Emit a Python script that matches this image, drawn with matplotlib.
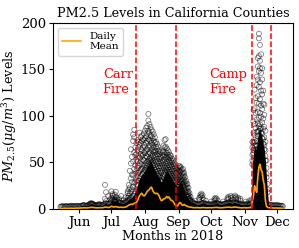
import numpy as np
import pandas as pd
import matplotlib
matplotlib.use("Agg")
import matplotlib.pyplot as plt
import matplotlib.dates as mdates

plt.rcParams['font.family'] = 'DejaVu Serif'
plt.rcParams['mathtext.fontset'] = 'dejavuserif'

# daily mean PM2.5 (ug/m3), 2018-05-15 .. 2018-12-06
mean_may = [0.9, 0.8, 0.8, 0.9, 1.0, 0.9, 0.8, 0.8, 0.9, 1.0, 1.0, 0.9, 0.8, 0.9, 1.0, 1.1, 1.0]
mean_jun = [1.0, 1.1, 1.2, 1.2, 1.3, 1.4, 1.3, 1.2, 1.3, 1.5, 1.6, 1.8, 1.9, 1.7, 1.5,
            1.4, 1.3, 1.3, 1.4, 1.5, 1.5, 1.4, 1.5, 1.7, 2.2, 2.0, 1.8, 1.7, 1.8, 2.3]
mean_jul = [3.0, 2.6, 2.2, 2.4, 2.6, 2.3, 2.0, 1.8, 1.9, 2.0, 1.8, 1.7, 1.9, 2.2, 2.6,
            3.5, 4.2, 4.8, 5.2, 5.0, 5.5, 6.0, 6.5, 7.0, 9.0, 12.0, 14.5, 16.0, 17.0, 15.0, 14.0]
mean_aug = [15, 17, 19, 20, 21, 23, 23.5, 20, 18, 17, 16.5, 17, 16, 14, 11, 9, 9.5,
            11, 11, 12, 13.5, 12, 13, 11, 9.5, 9, 8, 6, 4, 3, 3.5]
mean_sep = [5.5, 7, 6.5, 4.5, 4, 5, 4, 3.5, 3, 2.5, 2.2, 2, 1.8, 1.6, 1.5, 1.4, 1.5,
            1.6, 1.5, 1.4, 1.3, 1.5, 1.7, 1.6, 1.5, 1.4, 1.3, 1.4, 1.5, 1.4]
mean_oct = [1.4, 1.5, 1.6, 1.7, 1.9, 1.8, 1.6, 1.5, 1.4, 1.3, 1.4, 1.5, 1.6, 1.8, 1.9, 2.0,
            2.1, 1.9, 1.8, 1.7, 1.9, 2.0, 2.2, 2.0, 1.8, 1.6, 1.5, 1.4, 1.3, 1.4, 1.5]
mean_nov = [1.5, 1.4, 1.3, 1.4, 1.5, 1.6, 1.8, 9, 14, 25, 21, 18, 34, 45, 48, 42, 40, 31,
            26, 9, 3, 2, 1.5, 1.4, 1.3, 1.2, 1.2, 1.1, 1.2, 1.1]
mean_dec = [1.1, 1.0, 1.1, 1.0, 1.0, 0.9]

# top of the solid (overlapping) block of readings per day
dense_may = [2.5, 3, 3, 2.5, 3, 3, 3, 2.5, 3, 3, 3.5, 3, 3, 3, 3, 3.5, 3]
dense_jun = [3, 3, 3.5, 3.5, 4, 4, 3.5, 3.5, 4, 4.5, 5, 5.5, 5.5, 5, 4.5, 4, 4, 4, 4.5,
             4.5, 4, 4, 4.5, 5, 6, 6, 5.5, 5.5, 6, 7]
dense_jul = [9, 10, 9, 8, 9, 10, 8, 7, 7, 6.5, 6, 6, 6.5, 7, 8, 9, 10, 11, 12, 13, 14,
             16, 19, 22, 26, 30, 33, 35, 37, 38, 40]
dense_aug = [42, 44, 46, 48, 50, 52, 50, 47, 44, 42, 40, 38, 36, 34, 31, 29, 31, 34, 37,
             40, 42, 40, 38, 36, 34, 32, 30, 28, 26, 25, 24]
dense_sep = [26, 28, 29, 27, 24, 21, 18, 15, 13, 11, 9.5, 8.5, 7.5, 7, 6, 6, 5.5, 5, 5, 5,
             5.5, 6, 6.5, 6.5, 6, 5.5, 5, 5, 5, 5]
dense_oct = [5, 5, 5, 5.5, 6, 6.5, 6, 5.5, 5, 5, 5, 5, 5.5, 6, 6, 6.5, 7, 7, 6.5, 6, 6.5,
             7, 7, 6.5, 6, 6, 5.5, 5, 5, 5, 5]
dense_nov = [5, 5, 5, 5, 5, 5.5, 6, 48, 60, 68, 64, 68, 78, 84, 86, 82, 76, 70, 64, 52,
             34, 18, 5, 4.5, 4, 4, 4, 4, 4, 4]
dense_dec = [4, 4, 3.5, 3.5, 3.5, 3]

# scattered single readings above the solid block
spread = {
    '06-05': [4.5], '06-11': [5.5], '06-12': [6.5], '06-13': [6], '06-14': [5.5],
    '06-19': [5], '06-20': [5.5], '06-25': [26, 11], '06-26': [18, 8.5], '06-28': [14],
    '06-30': [10.5], '07-01': [12, 19], '07-02': [14.5, 16], '07-03': [12.5], '07-04': [10, 15.5],
    '07-05': [13, 18.5], '07-06': [12], '07-08': [10, 11.5], '07-10': [14], '07-12': [9.5],
    '07-14': [9, 12.5], '07-16': [12, 17, 19], '07-17': [14, 21, 26], '07-18': [17, 23, 41],
    '07-19': [19, 33, 49, 64], '07-20': [21, 29, 37, 56], '07-21': [24, 36, 51, 73, 80],
    '07-22': [28, 43, 61, 77, 85], '07-23': [29, 38, 47, 58, 66], '07-24': [31, 41, 53, 59, 71],
    '07-25': [35, 44, 51, 63, 74], '07-26': [39, 47, 57, 66, 72], '07-27': [41, 49, 55, 69, 82],
    '07-28': [42, 51, 59, 64, 71, 77], '07-29': [43, 48, 57, 63, 73, 79],
    '07-30': [44, 53, 58, 66, 75], '07-31': [46, 52, 61, 69, 74, 81],
    '08-01': [47, 55, 60, 67, 76, 84], '08-02': [49, 57, 63, 71, 78, 87],
    '08-03': [51, 56, 64, 73, 81, 89], '08-04': [52, 59, 66, 75, 84, 95, 102],
    '08-05': [54, 61, 68, 74, 82, 91], '08-06': [55, 60, 67, 73, 79, 88],
    '08-07': [53, 58, 64, 71, 78, 85], '08-08': [51, 57, 62, 69, 76, 83],
    '08-09': [49, 55, 61, 66, 73, 80], '08-10': [47, 52, 58, 63, 71, 77],
    '08-11': [45, 51, 56, 62, 67, 72], '08-12': [43, 49, 54, 59, 65, 70],
    '08-13': [41, 46, 51, 57, 62, 67], '08-14': [38, 44, 49, 54, 59, 63],
    '08-15': [35, 41, 46, 51, 56, 61], '08-16': [33, 39, 44, 49, 55],
    '08-17': [35, 41, 47, 52, 58, 62], '08-18': [38, 44, 50, 56, 61, 68],
    '08-19': [41, 47, 53, 58, 66, 74], '08-20': [44, 49, 55, 61, 67, 75],
    '08-21': [46, 51, 56, 60, 65], '08-22': [44, 49, 54, 58, 63],
    '08-23': [42, 47, 52, 56, 61], '08-24': [40, 45, 50, 55, 58],
    '08-25': [38, 43, 47, 52, 57], '08-26': [36, 41, 45, 50, 54],
    '08-27': [34, 38, 43, 48, 52], '08-28': [31, 36, 41, 46, 50],
    '08-29': [29, 34, 39, 44, 48], '08-30': [28, 33, 38, 42],
    '08-31': [27, 31, 36, 40, 44], '09-01': [29, 34, 38, 42, 46],
    '09-02': [31, 35, 40, 44, 46], '09-03': [32, 36, 41, 45], '09-04': [30, 34, 38, 42],
    '09-05': [27, 31, 35, 39, 43], '09-06': [24, 28, 32, 36, 39], '09-07': [21, 25, 29, 34],
    '09-08': [18, 22, 26, 30], '09-09': [15, 19, 23, 27], '09-10': [13, 16, 19, 23],
    '09-11': [11, 14, 17], '09-12': [10, 13],
    '09-14': [8], '09-16': [9], '09-20': [10, 12], '09-21': [13, 15], '09-22': [14, 16.5],
    '09-23': [12, 15], '09-24': [10], '09-26': [9], '10-01': [8], '10-04': [9, 11],
    '10-05': [10, 12], '10-06': [11], '10-07': [9], '10-12': [8], '10-16': [10, 12],
    '10-17': [11, 13], '10-19': [12, 14], '10-21': [10, 13], '10-23': [12, 14.5],
    '10-24': [11, 13], '10-26': [10, 12], '10-28': [9, 11], '11-02': [8], '11-05': [7, 9],
    '11-07': [8, 10],
    '11-08': [52, 58, 66, 72], '11-09': [63, 71, 82, 94, 106],
    '11-10': [72, 79, 91, 108, 128], '11-11': [69, 76, 87, 103, 119],
    '11-12': [73, 83, 96, 114, 133, 142], '11-13': [83, 92, 104, 121, 139, 153, 162],
    '11-14': [89, 98, 113, 131, 148, 164, 183, 188],
    '11-15': [91, 103, 118, 136, 151, 159, 176], '11-16': [87, 99, 111, 127, 146, 166],
    '11-17': [81, 93, 107, 123, 139, 151], '11-18': [75, 86, 97, 113, 127],
    '11-19': [69, 77, 88, 101, 112], '11-20': [57, 63, 72, 84],
    '11-21': [38, 44, 52], '11-22': [21, 27],
}

fires = ['2018-07-24', '2018-08-30', '2018-11-08', '2018-11-25']

days = pd.date_range('2018-05-15', '2018-12-06')
mean_pm = mean_may + mean_jun + mean_jul + mean_aug + mean_sep + mean_oct + mean_nov + mean_dec
dense_pm = dense_may + dense_jun + dense_jul + dense_aug + dense_sep + dense_oct + dense_nov + dense_dec

sx, sy = [], []
for k, vals in spread.items():
    for v in vals:
        sx.append(pd.Timestamp('2018-' + k))
        sy.append(v)

fig = plt.figure(figsize=(2.99, 2.48), dpi=100)
ax = fig.add_axes([0.177, 0.157, 0.803, 0.752])

ax.fill_between(days, 0, dense_pm, color='black', lw=0, zorder=2)
ax.scatter(days, dense_pm, s=13, facecolors='none', edgecolors='black', linewidths=0.6, alpha=0.6, zorder=2)
ax.scatter(sx, sy, s=13, facecolors='none', edgecolors='black', linewidths=0.6, alpha=0.5, zorder=2)
ax.plot(days, mean_pm, color='orange', lw=1.2, label='Daily\nMean', zorder=4)

for d in fires:
    ax.axvline(pd.Timestamp(d), color='red', ls='--', lw=1.1, zorder=5)

ax.text(pd.Timestamp('2018-06-23'), 124, 'Carr\nFire', color='red', fontsize=9.3, ha='left', va='baseline')
ax.text(pd.Timestamp('2018-09-29'), 124, 'Camp\nFire', color='red', fontsize=9.3, ha='left', va='baseline')

ax.set_xlim(pd.Timestamp('2018-05-08'), pd.Timestamp('2018-12-15 12:00'))
ax.set_ylim(0, 200)
ax.set_yticks([0, 50, 100, 150, 200])
ax.xaxis.set_major_locator(mdates.MonthLocator(bymonth=range(6, 13)))
ax.xaxis.set_major_formatter(mdates.DateFormatter('%b'))
ax.tick_params(labelsize=9.5, length=3, pad=2)

ax.set_title('PM2.5 Levels in California Counties', fontsize=9.2, pad=4)
ax.set_xlabel('Months in 2018', fontsize=9.2, labelpad=1)
ax.set_ylabel(r'$PM_{2.5} (\mu g/m^3)$ Levels', fontsize=9.2, labelpad=1)
ax.legend(loc='upper left', fontsize=7.5, handlelength=1.8)

fig.savefig('out.png', dpi=100)
